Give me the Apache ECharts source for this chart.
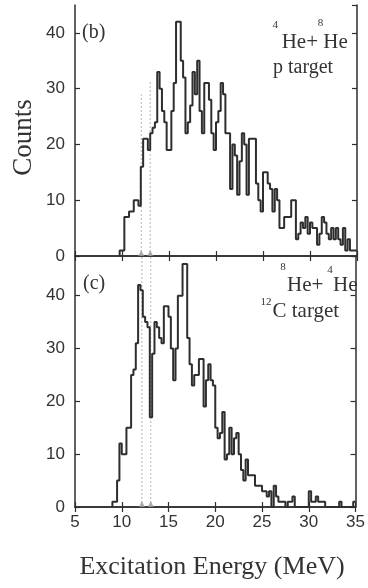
<!DOCTYPE html>
<html><head><meta charset="utf-8">
<script src="https://cdn.jsdelivr.net/npm/echarts/dist/echarts.min.js"></script>
<style>html,body{margin:0;padding:0;background:#fff}#c{width:368px;height:588px}</style>
</head><body><div id="c"></div><script>
// ---- data ----
const binWidth = 0.25; // MeV
const startB = 9.75;   // first bin edge, panel (b)
const countsB = [1,1,7,7,8,8,10,10,9,16,
  21,21,19,22,23,24,33,30,26,24,
  19,19,26,31,42,42,35,32,22,24,
  27,33,29,35,26,22,31,31,28,22,
  19,24,26,31,29,22,22,12,20,18,
  11,17,22,20,11,21,21,21,13,10,
  8,15,15,13,12,8,12,10,5,5,
  7,7,7,10,10,3,4,6,5,7,
  4,6,5,5,2,4,7,6,4,3,
  5,3,5,3,2,5,1,3,1,1,
  1];
const startC = 9.0;    // first bin edge, panel (c)
const countsC = [1,1,5,12,10,10,15,15,25,26,
  31,42,41,36,35,34,17,29,35,34,
  32,31,38,38,36,30,24,30,40,40,
  46,46,32,27,23,25,25,28,28,19,
  24,27,24,23,15,13,14,18,9,10,
  15,10,13,14,10,7,5,9,6,6,
  6,4,4,4,3,3,2,3,0,4,
  2,1,1,1,0,1,1,2,0,0,
  0,0,0,0,3,1,1,2,1,1,
  1,0,0,0,0,0,0,1,0,0,
  0,0,0,1];
const xMin = 5, xMax = 35, xStep = 5;
const yMaxB = 45, yMaxC = 47.5, yStep = 10;
const guideEnergyB = [12.05, 13.0];
const guideTopB = [29, 31.3];
const guideEnergyC = [12.15, 13.1];
const guideTopC = [47.5, 47.5];

// ---- styling ----
const ink = '#2e2e2e';
const serif = '"Liberation Serif", "DejaVu Serif", serif';
const sans = '"Liberation Sans", Arial, sans-serif';

function histPoints(start, counts) {
  const pts = [[start, 0]];
  counts.forEach((c, i) => pts.push([start + i * binWidth, c]));
  pts.push([start + counts.length * binWidth, counts[counts.length - 1]]);
  return pts;
}

const grids = [
  {left: 75, top: 5, width: 282, height: 251, show: false},
  {left: 75, top: 256, width: 282, height: 251, show: false}
];
const axLine = {show: true, lineStyle: {color: ink, width: 1.5}};
const tick = {show: true, inside: true, length: 5, lineStyle: {color: ink, width: 1.2}};
const xAxes = [], yAxes = [];
[0, 1].forEach(g => {
  const showX = g === 1;
  xAxes.push({type: 'value', gridIndex: g, min: xMin, max: xMax, interval: xStep, position: 'bottom',
    axisLine: axLine, axisTick: tick, splitLine: {show: false},
    axisLabel: {show: showX, fontSize: 17, color: '#333', fontFamily: sans, margin: 7}});
  xAxes.push({type: 'value', gridIndex: g, min: xMin, max: xMax, interval: xStep, position: 'top',
    axisLine: axLine, axisTick: tick, splitLine: {show: false}, axisLabel: {show: false}});
  const ymax = g === 0 ? yMaxB : yMaxC;
  yAxes.push({type: 'value', gridIndex: g, min: 0, max: ymax, interval: yStep, position: 'left',
    axisLine: axLine, axisTick: tick, splitLine: {show: false},
    axisLabel: {fontSize: 17, color: '#333', fontFamily: sans, margin: 10, showMaxLabel: false}});
  yAxes.push({type: 'value', gridIndex: g, min: 0, max: ymax, interval: yStep, position: 'right',
    axisLine: axLine, axisTick: tick, splitLine: {show: false}, axisLabel: {show: false}});
});

const series = [];
function guides(g, energies, tops) {
  energies.forEach((e, i) => {
    series.push({type: 'line', xAxisIndex: g * 2, yAxisIndex: g * 2, symbol: 'none', silent: true, z: 1,
      data: [[e, 0], [e, tops[i]]],
      lineStyle: {color: '#b5b5b5', width: 1, type: [2, 2]}});
  });
  series.push({type: 'scatter', xAxisIndex: g * 2, yAxisIndex: g * 2, symbol: 'triangle', symbolSize: 6,
    symbolOffset: [0, -3], z: 1, silent: true,
    data: energies.map(e => [e, 0]), itemStyle: {color: '#9a9a9a'}});
}
guides(0, guideEnergyB, guideTopB);
guides(1, guideEnergyC, guideTopC);
series.push({type: 'line', xAxisIndex: 0, yAxisIndex: 0, step: 'end', symbol: 'none', z: 3,
  data: histPoints(startB, countsB), lineStyle: {color: ink, width: 2}});
series.push({type: 'line', xAxisIndex: 2, yAxisIndex: 2, step: 'end', symbol: 'none', z: 3,
  data: histPoints(startC, countsC), lineStyle: {color: ink, width: 2}});

function txt(s, x, y, size, align, extra) {
  return Object.assign({type: 'text', x: x, y: y, silent: true, z: 10,
    style: {text: s, font: size + 'px ' + serif, fill: '#333', textAlign: align || 'left', textVerticalAlign: 'middle'}}, extra || {});
}
const graphic = [
  txt('(b)', 82, 33, 20),
  txt('4', 275.3, 25, 11, 'center'),
  txt('He+', 281.7, 42.5, 21),
  txt('8', 320.5, 23.5, 11, 'center'),
  txt('He', 323.3, 42.5, 21),
  txt('p target', 273, 67.5, 20),
  txt('(c)', 83, 284, 20),
  txt('8', 283, 267, 11, 'center'),
  txt('He+', 287, 285, 21),
  txt('4', 330, 270, 11, 'center'),
  txt('He', 333, 285, 21),
  txt('12', 266, 302, 11, 'center'),
  txt('C target', 272.5, 311.5, 21),
  txt('Counts', 24, 137.5, 27, 'center', {rotation: Math.PI / 2}),
  txt('Excitation Energy (MeV)', 212, 567, 26, 'center')
];

const chart = echarts.init(document.getElementById('c'), null, {renderer: 'canvas'});
chart.setOption({animation: false, backgroundColor: '#fff', grid: grids, xAxis: xAxes, yAxis: yAxes, series: series, graphic: graphic});
</script></body></html>
